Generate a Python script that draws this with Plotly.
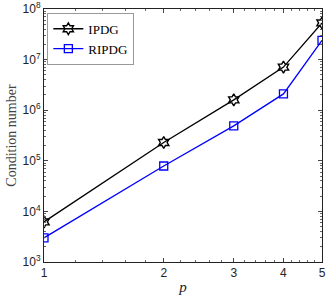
import plotly.graph_objects as go

p = [1, 2, 3, 4, 5]
ipdg = [6.2e3, 2.3e5, 1.6e6, 7.1e6, 5.3e7]
ripdg = [3.0e3, 7.9e4, 4.9e5, 2.1e6, 2.4e7]
xtick_vals = [1, 2, 3, 4, 5]
xtick_text = ["1", "2", "3", "4", "5"]
ytick_vals = [1e3, 1e4, 1e5, 1e6, 1e7, 1e8]
ytick_text = ["10<sup>3</sup>", "10<sup>4</sup>", "10<sup>5</sup>", "10<sup>6</sup>", "10<sup>7</sup>", "10<sup>8</sup>"]

xminor = [1.2, 1.4, 1.6, 1.8, 2.2, 2.4, 2.6, 2.8, 3.2, 3.4, 3.6, 3.8, 4.2, 4.4, 4.6, 4.8]
yminor = [m * 10 ** e for e in range(3, 8) for m in range(2, 10)]

fig = go.Figure()
fig.add_trace(go.Scatter(x=p, y=ipdg, mode="lines+markers", name="IPDG",
                         line=dict(color="black", width=1.3),
                         marker=dict(symbol="hexagram-open", size=9, color="black", line=dict(width=1.4))))
fig.add_trace(go.Scatter(x=p, y=ripdg, mode="lines+markers", name="RIPDG",
                         line=dict(color="#0000ff", width=1.3),
                         marker=dict(symbol="square-open", size=8, color="#0000ff", line=dict(width=1.3))))

axis_common = dict(showline=True, linecolor="#222", linewidth=1, mirror="ticks",
                   ticks="inside", ticklen=4, tickcolor="#444", showgrid=False, zeroline=False,
                   automargin=False,
                   tickfont=dict(family="Liberation Sans, Arial", size=12, color="#222"))

fig.update_xaxes(type="log", range=[0, 0.69897], tickmode="array", tickvals=xtick_vals, ticktext=xtick_text,
                 minor=dict(tickmode="array", tickvals=xminor, ticks="inside", ticklen=2, tickcolor="#666"),
                 title=dict(text="<i>p</i>", font=dict(family="Liberation Serif, serif", size=15, color="#222"), standoff=2),
                 **axis_common)
fig.update_yaxes(type="log", range=[3, 8], tickmode="array", tickvals=ytick_vals, ticktext=ytick_text,
                 minor=dict(tickmode="array", tickvals=yminor, ticks="inside", ticklen=2, tickcolor="#666"),
                 title=dict(text="Condition number", font=dict(family="Liberation Serif, serif", size=14, color="#444"), standoff=2),
                 **axis_common)

fig.update_layout(width=327, height=300, margin=dict(l=44, r=5, t=9, b=38),
                  plot_bgcolor="white", paper_bgcolor="white", showlegend=True,
                  legend=dict(x=0.012, y=0.985, xanchor="left", yanchor="top",
                              bgcolor="white", bordercolor="#999", borderwidth=1,
                              font=dict(family="Liberation Serif, serif", size=13, color="black"),
                              tracegroupgap=0, itemwidth=30))
fig.write_html("out.html", config={"displayModeBar": False},
               post_script="document.body.style.margin='0';")
